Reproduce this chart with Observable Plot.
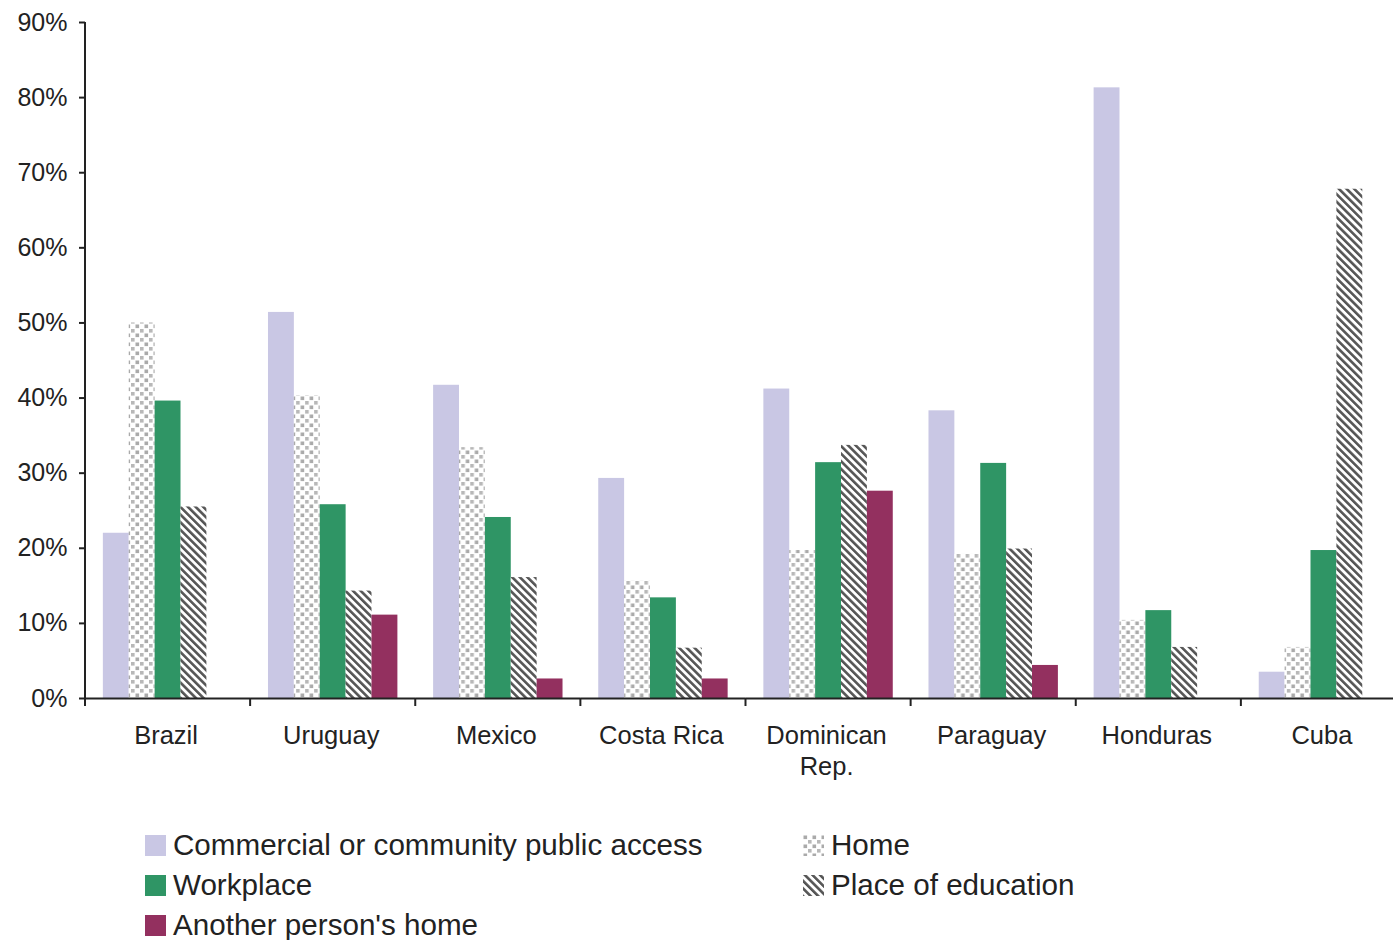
<!DOCTYPE html>
<html>
<head>
<meta charset="utf-8">
<script src="https://cdn.jsdelivr.net/npm/d3@7"></script>
<script src="https://cdn.jsdelivr.net/npm/@observablehq/plot@0.6"></script>
<style>
  html, body { margin: 0; padding: 0; background: #fff; }
  body { font-family: "Liberation Sans", Arial, sans-serif; color: #222; width: 1393px; height: 940px; overflow: hidden; }
  #legend { display: grid; grid-template-columns: 658px 400px; padding-left: 145px; margin-top: 35px; row-gap: 0; }
  .item { display: flex; align-items: center; height: 40px; font-size: 29.6px; }
  .item svg { width: 21px; height: 21px; margin-right: 7px; flex: none; }
</style>
</head>
<body>
<svg width="0" height="0" style="position:absolute">
  <defs>
    <pattern id="dots" patternUnits="userSpaceOnUse" width="9" height="9">
      <rect width="9" height="9" fill="#fff"></rect>
      <rect x="0.5" y="0.5" width="3.6" height="3.6" fill="#aaaaaa"></rect>
      <rect x="5" y="5" width="3.6" height="3.6" fill="#b8b8b8"></rect>
    </pattern>
    <pattern id="stripes" patternUnits="userSpaceOnUse" width="5.4" height="5.4" patternTransform="rotate(-45)">
      <rect width="5.4" height="5.4" fill="#fff"></rect>
      <rect width="2.6" height="5.4" fill="#555"></rect>
    </pattern>
  </defs>
</svg>
<div id="chart"></div>
<div id="legend"></div>
<script>
const countries = ["Brazil", "Uruguay", "Mexico", "Costa Rica", "Dominican Rep.", "Paraguay", "Honduras", "Cuba"];
const series = ["Commercial or community public access", "Home", "Workplace", "Place of education", "Another person's home"];
const publicAccess = [22.0, 51.4, 41.7, 29.3, 41.2, 38.3, 81.3, 3.5];
const home = [50.0, 40.3, 33.4, 15.7, 19.7, 19.2, 10.4, 6.8];
const workplace = [39.6, 25.8, 24.1, 13.4, 31.4, 31.3, 11.7, 19.7];
const education = [25.5, 14.3, 16.1, 6.7, 33.7, 19.9, 6.8, 67.8];
const otherHome = [null, 11.1, 2.6, 2.6, 27.6, 4.4, null, null];
const yTicks = [0, 10, 20, 30, 40, 50, 60, 70, 80, 90];
const fills = ["#c9c7e4", "url(#dots)", "#2f9565", "url(#stripes)", "#93305f"];
const legendOrder = [0, 1, 2, 3, 4];

const valuesBySeries = [publicAccess, home, workplace, education, otherHome];
const rows = [];
countries.forEach((c, i) => {
  series.forEach((s, j) => {
    const v = valuesBySeries[j][i];
    if (v != null) rows.push({country: c, series: s, value: v});
  });
});

const chart = Plot.plot({
  width: 1393,
  height: 790,
  marginTop: 22,
  marginLeft: 85,
  marginRight: -13,
  marginBottom: 92,
  style: {fontFamily: "'Liberation Sans', Arial, sans-serif", color: "#222", background: "white", overflow: "visible"},
  fx: {domain: countries, padding: 0, round: false, label: null},
  x: {domain: series, paddingInner: 0, paddingOuter: 0.69, round: false, axis: null},
  y: {domain: [0, 90], label: null},
  color: {domain: series, range: fills},
  marks: [
    Plot.barY(rows, {fx: "country", x: "series", y: "value", fill: "series"}),
    Plot.ruleY([0], {stroke: "#222", strokeWidth: 2}),
    Plot.axisY({ticks: yTicks, tickSize: 6, tickPadding: 12, fontSize: 25, strokeWidth: 2, tickFormat: d => d + "%", label: null}),
    Plot.axisFx({anchor: "bottom", tickSize: 0, tickPadding: 23, fontSize: 25.5, lineHeight: 1.22, dx: -2, label: null,
      tickFormat: d => d === "Dominican Rep." ? "Dominican\nRep." : d})
  ]
});
chart.style.display = "block";
document.getElementById("chart").appendChild(chart);

// y-axis line and group boundary ticks, positioned from Plot's own scales
const fx = chart.scale("fx");
const y = chart.scale("y");
const svg = d3.select(chart);
const x0 = fx.apply(countries[0]);
const y0 = y.apply(0);
svg.append("line")
  .attr("x1", x0).attr("x2", x0)
  .attr("y1", y.apply(90)).attr("y2", y0 + 1)
  .attr("stroke", "#222").attr("stroke-width", 2);
countries.forEach(c => {
  const xb = fx.apply(c);
  svg.append("line")
    .attr("x1", xb).attr("x2", xb)
    .attr("y1", y0).attr("y2", y0 + 8)
    .attr("stroke", "#222").attr("stroke-width", 2);
});

// legend
const legend = d3.select("#legend");
legendOrder.forEach(j => {
  const item = legend.append("div").attr("class", "item");
  const sw = item.append("svg").attr("viewBox", "0 0 21 21");
  sw.append("rect").attr("width", 21).attr("height", 21).attr("fill", fills[j]);
  item.append("span").text(series[j]);
});
</script>
</body>
</html>
